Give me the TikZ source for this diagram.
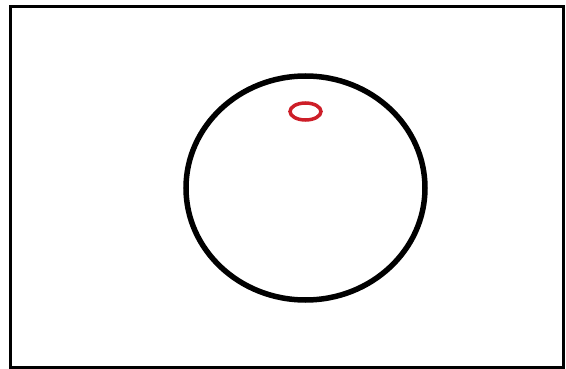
\documentclass[tikz,border=0pt]{standalone}
\usepackage{tikz}
\definecolor{ringred}{RGB}{205,30,40}

\begin{document}
\begin{tikzpicture}[x=1pt, y=-1pt, every node/.style={font=\small}]
  \useasboundingbox (0,0) rectangle (566,369);
  \draw[line width=3pt] (10.5,6.5) rectangle (563.5,367);
  \draw[line width=5.5pt] (305.5,188) ellipse [x radius=119.5, y radius=112];
  \draw[ringred, line width=3.5pt] (305.5,111.5) ellipse [x radius=15.5, y radius=8.5];
\end{tikzpicture}
\end{document}
